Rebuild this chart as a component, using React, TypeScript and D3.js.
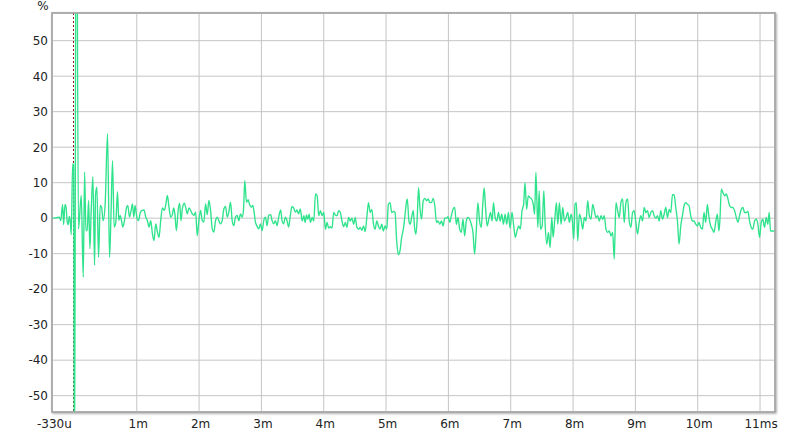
import React from "react";
import * as d3 from "d3";

// ---- data (time in ms, value in %) ----
const responseEarly: [number, number][] = [
  [-0.36, 0], [-0.296, 0.1], [-0.243, 0.3], [-0.22, -0.7], [-0.19, 3.9], [-0.173, -1.8],
  [-0.152, 3.9], [-0.136, 3.3], [-0.115, -1.1], [-0.099, -1.8], [-0.083, 0.5], [-0.067, -0.7],
  [-0.051, -4.6], [-0.029, 15.3], [-0.013, 15.1], [0.0, -80], [0.03, 120], [0.065, -3],
  [0.109, 6.4], [0.141, -16.6], [0.163, 13], [0.184, -3.5], [0.205, -3.5], [0.227, 5],
  [0.248, -8.6], [0.269, 2.2], [0.296, 11.7], [0.323, -13.3], [0.339, 6.7], [0.36, 8.7],
  [0.387, -11], [0.413, 3.6], [0.435, 3.1], [0.461, -0.7], [0.493, 4], [0.531, 23.8],
  [0.563, -11], [0.584, -0.7], [0.611, 16.2], [0.637, -2.5], [0.664, -1.1], [0.691, 7.5],
  [0.712, -0.7], [0.733, 0.8], [0.755, -0.7], [0.776, -2.5], [0.803, -0.7], [0.835, 2.9],
  [0.856, 3.6], [0.883, 0.3], [0.909, 2.2], [0.931, 4], [0.952, 0.3], [0.973, 3.6],
];

const responseMid: [number, number][] = [
  [1.0, 0.3], [1.027, -0.7], [1.059, 1.7], [1.091, 2.2], [1.117, 2.3], [1.144, 0.3],
  [1.171, -0.7], [1.197, -2.5], [1.224, -0.7], [1.251, -4.4], [1.277, -6.3], [1.304, -1.6],
  [1.331, -3.9], [1.357, -5.4], [1.384, -0.7], [1.411, 2.9], [1.443, 2.2], [1.464, 3.6],
  [1.491, 6.4], [1.517, 3.1], [1.544, 0.3], [1.571, 1], [1.592, 2.9], [1.613, 1],
  [1.635, -3.5], [1.667, 2.6], [1.688, 4.2], [1.709, -0.7], [1.731, 2.6], [1.763, 4.2],
  [1.784, 3.1], [1.811, 1.2], [1.837, 2.9], [1.864, 2.2], [1.891, 1.2], [1.917, 0.8],
  [1.944, 1.7], [1.971, -4.9], [1.997, -0.7], [2.024, 2.2], [2.051, -0.7], [2.077, -1.1],
  [2.104, 4], [2.131, 1], [2.157, 5], [2.184, 2.2], [2.211, -3], [2.237, -3.9],
  [2.264, -0.7], [2.291, 0.3], [2.317, -0.7], [2.344, -1.6], [2.371, -0.7], [2.397, 2.6],
  [2.424, 3.3], [2.451, 0.3], [2.477, 1.7], [2.504, 4.5], [2.531, -0.7], [2.557, -2.1],
  [2.584, 0.3], [2.611, 0.8], [2.637, -0.7], [2.664, 1.2], [2.691, 0.3], [2.712, 2.2],
  [2.733, 10.6], [2.76, 4.5], [2.787, 5.2], [2.808, 4], [2.835, 3.1], [2.861, 3.6],
  [2.883, 1.7], [2.904, -1.1], [2.931, -2.3], [2.957, -3], [2.984, -1.6], [3.011, -3.5],
  [3.037, -0.7], [3.064, 0.3], [3.091, -2.1], [3.117, 0.8], [3.149, 1], [3.171, -0.7],
  [3.197, -1.6], [3.224, -0.7], [3.251, -2.1], [3.277, 0.3], [3.309, 2.3], [3.331, -0.7],
  [3.357, -1.6], [3.384, 0.3], [3.411, -0.7], [3.437, -2.5], [3.464, 0.8], [3.491, 3.3],
  [3.517, 2.9], [3.544, 1.7], [3.571, 2.3], [3.597, 1.2], [3.624, 2.6], [3.654, -0.8],
  [3.681, 0.7], [3.702, -1.2], [3.723, 0.9], [3.745, -0.3], [3.766, 1.1], [3.787, -1.2],
  [3.814, 0.2], [3.84, -0.8], [3.867, 6.8], [3.894, 6.3], [3.92, 0.7], [3.947, 2.1],
  [3.973, 0.7], [4.0, 1.6], [4.027, -3.1], [4.053, -1.2], [4.08, -2.8], [4.106, -2.4],
  [4.133, -2.8], [4.16, 1.6], [4.186, 0.9], [4.213, 0.7], [4.239, 2.1], [4.266, 1.6],
  [4.293, -0.8], [4.319, -2.4], [4.346, -1.2], [4.372, -2.6], [4.399, 0.2], [4.426, -0.8],
  [4.452, 0], [4.479, -1.7], [4.505, 0.2], [4.532, -2.6], [4.559, -3.1], [4.585, -2.6],
  [4.612, -3.4], [4.638, -2.2], [4.665, -3.8], [4.691, 0.2], [4.718, 4.4], [4.745, 1.6],
  [4.771, 2.5], [4.798, -1.7], [4.824, -3.1], [4.851, -0.8], [4.878, -2.2], [4.904, -3.1],
  [4.931, -1.7], [4.957, -3.6], [4.984, -2.2], [5.011, -3.1], [5.037, 3.9], [5.064, 4.4],
  [5.09, 1.6], [5.117, 1.9], [5.144, 1.6], [5.17, -6.4], [5.197, -10.3], [5.223, -9.2],
  [5.25, -5.4], [5.277, -3.1], [5.303, 0.7], [5.319, 3.5], [5.34, 5.4], [5.367, -0.8],
  [5.388, -1.7], [5.415, 0.7], [5.436, 2.1], [5.457, -2.6], [5.479, -4.5], [5.5, 0.2],
  [5.521, 8.6], [5.543, 3], [5.569, -0.3], [5.596, 4.9], [5.622, 5.6], [5.649, 4.9],
  [5.676, 5.4], [5.702, 4.4], [5.729, 4.4], [5.755, 5.6], [5.782, 3.5], [5.809, -1.2],
  [5.835, -0.8], [5.862, -1.7], [5.888, -0.8], [5.915, -2.2], [5.941, 0], [5.968, 0],
  [5.995, 0.4], [6.021, -1.2], [6.048, 0.7], [6.074, 2.5], [6.101, 3], [6.128, -1.7],
  [6.154, 0.2], [6.181, -3.1], [6.207, -4], [6.234, -0.3], [6.261, -5], [6.287, -0.8],
  [6.314, 0.2], [6.34, -0.3], [6.367, -1.7], [6.394, -4], [6.42, -10.1], [6.447, -3.6],
  [6.473, 4.4], [6.5, -0.8], [6.527, -2.6], [6.553, 4.4], [6.574, 8.5], [6.596, 3],
  [6.622, -2.2], [6.649, -0.3], [6.676, 1.6], [6.702, -0.8], [6.723, 4.4], [6.75, 0.2],
  [6.777, -0.8], [6.803, 1.6], [6.83, -0.8], [6.856, 1.1], [6.883, -1.7], [6.91, 1.1],
  [6.936, -1.7], [6.963, 1.6], [6.989, -2.8], [7.021, 1.6], [7.048, -2.2], [7.074, -5.4],
  [7.101, -3.6], [7.128, -2.2], [7.154, -3.1], [7.181, 2.1], [7.207, 3.9], [7.229, 10],
  [7.255, 2.5], [7.282, 6.3], [7.309, 5.8], [7.335, 5.4], [7.362, 3.9], [7.383, 1.1],
  [7.404, 12.9],
];

const responseLate: [number, number][] = [
  [7.435, -2.6], [7.456, 7.7], [7.477, -3.1], [7.504, -2.2], [7.531, 7.7], [7.552, -1.7],
  [7.579, -7.3], [7.605, -4], [7.632, -8.3], [7.659, 0.2], [7.68, -5.4], [7.707, -0.3],
  [7.733, 4.4], [7.755, -1.7], [7.781, 4.4], [7.808, -1.7], [7.835, 3], [7.861, -0.8],
  [7.888, 0.2], [7.915, 1.6], [7.941, -1.2], [7.968, 1.1], [7.989, -0.8], [8.011, -5.9],
  [8.032, 3.9], [8.053, 4.4], [8.075, -6.4], [8.101, 1.1], [8.128, -0.3], [8.155, -3.1],
  [8.181, 0.2], [8.208, -0.8], [8.235, 4.9], [8.261, 0.7], [8.288, -0.3], [8.315, 3.9],
  [8.341, 2.1], [8.368, 0.2], [8.395, 0.7], [8.421, -0.8], [8.448, 0.7], [8.475, -0.3],
  [8.501, 0.7], [8.528, -3.1], [8.555, -4], [8.581, -3.6], [8.608, -5], [8.635, -4],
  [8.661, -11.5], [8.688, 4.4], [8.715, 2.1], [8.741, 0.2], [8.768, 4.4], [8.795, 5.4],
  [8.821, -1.2], [8.848, 4.4], [8.875, 5.4], [8.901, -0.8], [8.928, -2.6], [8.955, 1.6],
  [8.981, 2.1], [9.008, -1.2], [9.035, -4.5], [9.061, -1.2], [9.088, 0.7], [9.115, -0.8],
  [9.141, 3], [9.168, 1.6], [9.195, 2.1], [9.221, 0.2], [9.248, 1.6], [9.275, 2.1],
  [9.301, 0.7], [9.328, 0], [9.355, 0.7], [9.381, -0.8], [9.408, 2.1], [9.435, -0.3],
  [9.461, 1.1], [9.488, 3], [9.515, 0.2], [9.541, 2.5], [9.568, 1.6], [9.595, 6.6],
  [9.621, 6.6], [9.648, 3], [9.675, -0.8], [9.701, -7.3], [9.728, -2.2], [9.755, 0.7],
  [9.781, 3.5], [9.808, 4.4], [9.835, 3.9], [9.861, 3.5], [9.888, 0.7], [9.915, -0.8],
  [9.941, -0.8], [9.968, -1.7], [9.995, -2.2], [10.021, -1.2], [10.048, -2.6], [10.075, -3.1],
  [10.101, 1.6], [10.128, -1.2], [10.155, 3.9], [10.181, 0.2], [10.208, -2.2], [10.235, -3.1],
  [10.261, -4], [10.288, -1.2], [10.315, 1.1], [10.341, -3.6], [10.357, -0.3], [10.379, 8.2],
  [10.405, 7.2], [10.432, 6.3], [10.459, 6.8], [10.485, 5.4], [10.512, 3.5], [10.539, 3],
  [10.565, 3], [10.592, 2.1], [10.619, 0.2], [10.645, -1.2], [10.672, 0.7], [10.699, 2.5],
  [10.725, 3], [10.752, 1.6], [10.779, 1.6], [10.805, 1.9], [10.832, -0.8], [10.859, -2.6],
  [10.885, -3.1], [10.912, -0.8], [10.939, -0.3], [10.965, -1.7], [10.992, -5.4], [11.019, -1.2],
  [11.045, -0.3], [11.072, -2.6], [11.099, 0.2], [11.125, -1.7], [11.147, 1.6], [11.168, -3.6],
  [11.189, -3.6], [11.24, -3.6],
];

const xTickValues = [1, 2, 3, 4, 5, 6, 7, 8, 9, 10, 11];
const xTickLabels = ["1m", "2m", "3m", "4m", "5m", "6m", "7m", "8m", "9m", "10m", "11m"];
const xUnitSuffix = "s";
const xStartValue = -0.337;
const xStartLabel = "-330u";
const yTickValues = [-50, -40, -30, -20, -10, 0, 10, 20, 30, 40, 50];
const yUnitLabel = "%";
const markerTime = -0.015;
const xDomain: [number, number] = [-0.36, 11.24];
const yDomain: [number, number] = [-54.6, 57.8];

export default function App() {
  const W = 800, H = 433;
  const L = 52, T = 13, R = 775, B = 412;
  const x = d3.scaleLinear().domain(xDomain).range([L, R]);
  const y = d3.scaleLinear().domain(yDomain).range([B, T]);
  const data = [...responseEarly, ...responseMid, ...responseLate];
  const line = d3
    .line<[number, number]>()
    .x((d) => x(d[0]))
    .y((d) => y(d[1]))
    .curve(d3.curveMonotoneX);
  const font = "'DejaVu Sans', Verdana, sans-serif";
  const lastIdx = xTickValues.length - 1;
  return (
    <svg
      width={W}
      height={H}
      style={{ position: "absolute", left: 0, top: 0, background: "#fff" }}
      fontFamily={font}
      fontSize={12}
    >
      <defs>
        <clipPath id="plotClip">
          <rect x={L} y={T} width={R - L} height={B - T} />
        </clipPath>
        <filter id="shadow" x="-5%" y="-5%" width="110%" height="110%">
          <feDropShadow dx="1" dy="1" stdDeviation="1.2" floodColor="#000" floodOpacity="0.35" />
        </filter>
      </defs>
      <rect x={L} y={T} width={R - L} height={B - T} fill="#fff" stroke="#a9a9a9" strokeWidth={1.5} filter="url(#shadow)" />
      {xTickValues.map((t) => (
        <line key={"gx" + t} x1={x(t)} x2={x(t)} y1={T} y2={B} stroke="#c4c4c4" strokeWidth={1} />
      ))}
      {yTickValues.map((v) => (
        <line key={"gy" + v} x1={L} x2={R} y1={y(v)} y2={y(v)} stroke="#c4c4c4" strokeWidth={1} />
      ))}
      <line x1={x(markerTime)} x2={x(markerTime)} y1={T} y2={B} stroke="#8a1c1c" strokeWidth={1} strokeDasharray="2,2" />
      <g clipPath="url(#plotClip)">
        <path d={line(data) || ""} fill="none" stroke="#2ee38c" strokeWidth={1.35} strokeLinejoin="round" />
      </g>
      <rect x={L} y={T} width={R - L} height={B - T} fill="none" stroke="#a9a9a9" strokeWidth={1.5} />
      {yTickValues.map((v) => (
        <text key={"ty" + v} x={48} y={y(v)} dy="0.36em" textAnchor="end" fill="#222">
          {String(v)}
        </text>
      ))}
      <text x={43} y={10} textAnchor="middle" fill="#222">{yUnitLabel}</text>
      <text x={x(xStartValue) + 1} y={428} textAnchor="middle" fill="#222">{xStartLabel}</text>
      {xTickValues.map((t, i) =>
        i === lastIdx ? (
          <text key={"tx" + t} x={x(t) + 1} y={428} textAnchor="middle" fill="#222">
            {xTickLabels[i]}
            <tspan>{xUnitSuffix}</tspan>
          </text>
        ) : (
          <text key={"tx" + t} x={x(t) + 1.5} y={428} textAnchor="middle" fill="#222">
            {xTickLabels[i]}
          </text>
        )
      )}
    </svg>
  );
}
